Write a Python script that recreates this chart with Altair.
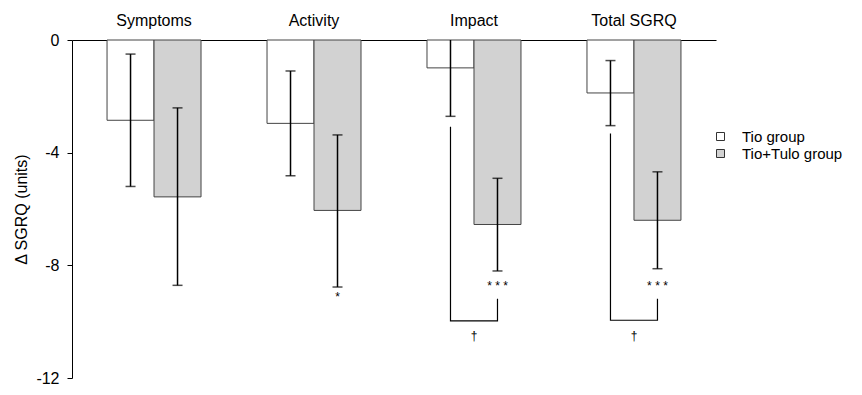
import altair as alt
import pandas as pd

categories = ["Symptoms", "Activity", "Impact", "Total SGRQ"]
groups = ["Tio group", "Tio+Tulo group"]

tio_mean = [-2.85, -2.96, -0.99, -1.88]
tio_upper = [-0.50, -1.10, 0.73, -0.73]
tio_lower = [-5.20, -4.82, -2.71, -3.04]

tulo_mean = [-5.57, -6.05, -6.55, -6.40]
tulo_upper = [-2.41, -3.37, -4.91, -4.68]
tulo_lower = [-8.71, -8.77, -8.20, -8.12]

# significance brackets (Tio vs Tio+Tulo)
bracket_cats = ["Impact", "Total SGRQ"]
bracket_left_top = [-3.08, -3.32]
bracket_right_top = [-9.19, -9.19]
bracket_bottom = [-9.97, -9.95]

sig_cats = ["Activity", "Impact", "Total SGRQ"]
sig_labels = ["*", "* * *", "* * *"]
sig_y = [-9.01, -8.63, -8.63]

dagger_cats = ["Impact", "Total SGRQ"]
dagger_labels = ["\u2020", "\u2020"]
dagger_y = [-10.5, -10.5]

y_ticks = [0, -4, -8, -12]

rows = []
for i, c in enumerate(categories):
    rows.append(dict(cat=c, group=groups[0], mean=tio_mean[i], hi=tio_upper[i], lo=tio_lower[i]))
    rows.append(dict(cat=c, group=groups[1], mean=tulo_mean[i], hi=tulo_upper[i], lo=tulo_lower[i]))
df = pd.DataFrame(rows)

br_rows = []
for i, c in enumerate(bracket_cats):
    br_rows.append(dict(cat=c, group=groups[0], y=bracket_left_top[i], o=0))
    br_rows.append(dict(cat=c, group=groups[0], y=bracket_bottom[i], o=1))
    br_rows.append(dict(cat=c, group=groups[1], y=bracket_bottom[i], o=2))
    br_rows.append(dict(cat=c, group=groups[1], y=bracket_right_top[i], o=3))
br = pd.DataFrame(br_rows)

sig = pd.DataFrame(dict(cat=sig_cats, group=[groups[1]] * len(sig_cats), y=sig_y, label=sig_labels))
dag = pd.DataFrame(dict(cat=dagger_cats, y=dagger_y, label=dagger_labels))

FONT = "Liberation Sans"

xscale = alt.Scale(domain=categories, paddingInner=0.4125, paddingOuter=0.219)
yscale = alt.Scale(domain=[-12, 0], nice=False, zero=False)
x_enc = alt.X("cat:N", scale=xscale, sort=categories,
              axis=alt.Axis(orient="top", title=None, ticks=False, labelAngle=0,
                            labelFontSize=16, labelPadding=12, domainColor="black",
                            domainWidth=1, labelColor="black", grid=False))
xoff = alt.XOffset("group:N", scale=alt.Scale(domain=groups, paddingInner=0, paddingOuter=0))
yaxis = alt.Axis(values=y_ticks, title="\u0394 SGRQ (units)", titleFontSize=16,
                 titleFontWeight="normal", titlePadding=6, titleColor="black",
                 labelFontSize=16, labelPadding=8, labelColor="black", tickSize=5,
                 tickColor="black", domainColor="black", grid=False,
                 labelExpr="toString(datum.value)")


def yq(field):
    return alt.Y(field, type="quantitative", scale=yscale, axis=yaxis, title="\u0394 SGRQ (units)")


base = alt.Chart(df).encode(x=x_enc, xOffset=xoff)

bars = base.mark_bar(stroke="#444444", strokeWidth=1).encode(
    y=yq("mean"),
    y2=alt.datum(0),
    color=alt.Color("group:N", scale=alt.Scale(domain=groups, range=["#ffffff", "#d2d2d2"]),
                    legend=alt.Legend(title=None, orient="none", legendX=641, legendY=89,
                                      symbolType="square", symbolSize=64,
                                      symbolStrokeColor="#333333", symbolStrokeWidth=1,
                                      labelFontSize=15, labelOffset=14, labelLimit=0,
                                      labelColor="black", rowPadding=1)),
)

err = base.mark_rule(color="black", strokeWidth=1.5, clip=True).encode(y=yq("lo"), y2="hi:Q")
cap_lo = base.mark_tick(color="black", thickness=1.5, size=10).encode(y=yq("lo"))
cap_hi = base.mark_tick(color="black", thickness=1.5, size=10, clip=True).encode(y=yq("hi"))

brackets = alt.Chart(br).mark_line(color="black", strokeWidth=1.2).encode(
    x=x_enc, xOffset=xoff, y=yq("y"), order="o:Q", detail="cat:N")

sig_text = alt.Chart(sig).mark_text(fontSize=12, baseline="middle", dy=3, font=FONT,
                                    fill="black", color="black").encode(
    x=x_enc, xOffset=xoff, y=yq("y"), text="label:N")

dag_text = alt.Chart(dag).mark_text(fontSize=12, baseline="middle", font=FONT,
                                    fill="black", color="black").encode(
    x=x_enc, y=yq("y"), text="label:N")

chart = alt.layer(bars, err, cap_lo, cap_hi, brackets, sig_text, dag_text).properties(
    width=644, height=338,
    autosize=alt.AutoSizeParams(type="none"),
    padding={"left": 64, "top": 32, "right": 138, "bottom": 9},
).configure_view(stroke=None).configure_axis(
    labelFont=FONT, titleFont=FONT
).configure_legend(labelFont=FONT)

chart.save("out.html", embed_options={"renderer": "svg", "actions": False})
